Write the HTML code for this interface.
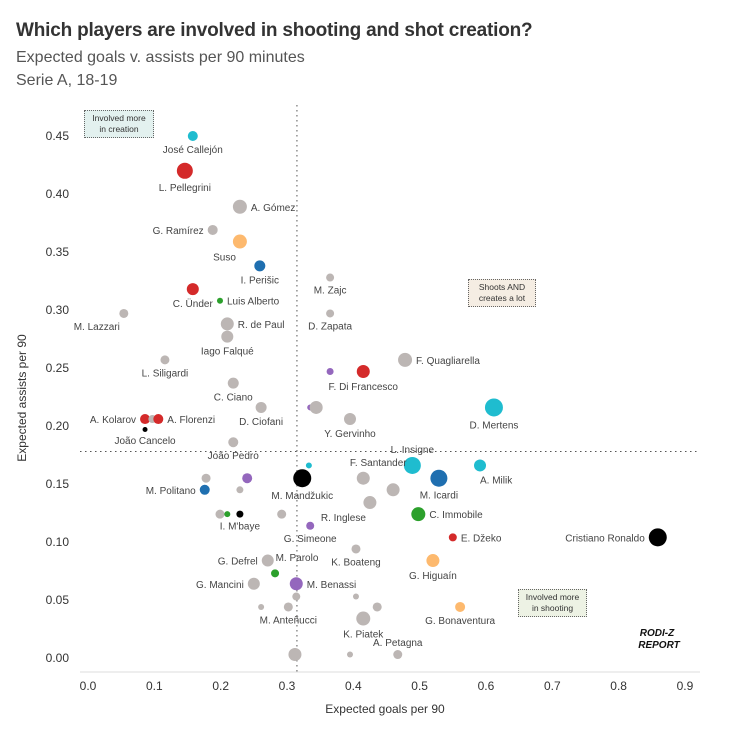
<!DOCTYPE html>
<html><head><meta charset="utf-8">
<style>
body{margin:0;background:#fff;width:730px;height:737px;overflow:hidden;font-family:"Liberation Sans",sans-serif}
#t{position:absolute;left:16px;top:20px;font-size:19px;color:#333;font-weight:bold;letter-spacing:-0.2px}
.s{position:absolute;left:16px;font-size:16px;color:#555}
.box{position:absolute;font-size:8.5px;color:#333;text-align:center;line-height:11px;border:1px dotted #666;padding:2px 3px}
</style></head><body>
<div id="t">Which players are involved in shooting and shot creation?</div>
<div class="s" style="top:49px">Expected goals v. assists per 90 minutes</div>
<div class="s" style="top:72px">Serie A, 18-19</div>
<div class="box" style="left:84px;top:110px;width:62px;background:#e3f1ef">Involved more<br>in creation</div>
<div class="box" style="left:468px;top:279px;width:60px;background:#f5ede3">Shoots AND<br>creates a lot</div>
<div class="box" style="left:518px;top:589px;width:61px;background:#edf2e4">Involved more<br>in shooting</div>
<svg id="c" width="730" height="737" style="position:absolute;left:0;top:0"></svg>
<script>
const names=["José Callejón","L. Pellegrini","A. Gómez","G. Ramírez","Suso","I. Perišic","M. Zajc","C. Ünder","Luis Alberto","M. Lazzari","D. Zapata","R. de Paul","Iago Falqué","L. Siligardi","F. Quagliarella","","F. Di Francesco","C. Ciano","D. Mertens","D. Ciofani","","","Y. Gervinho","A. Kolarov","","A. Florenzi","João Cancelo","João Pedro","","L. Insigne","A. Milik","M. Mandžukic","","","F. Santander","M. Icardi","M. Politano","","","R. Inglese","C. Immobile","","","I. M'baye","","G. Simeone","E. Džeko","Cristiano Ronaldo","K. Boateng","G. Defrel","G. Higuaín","","G. Mancini","M. Benassi","","","","M. Anteñucci","","G. Bonaventura","K. Piatek","A. Petagna","","","M. Parolo"];
const xs=[0.158,0.146,0.229,0.188,0.229,0.259,0.365,0.158,0.199,0.054,0.365,0.21,0.21,0.116,0.478,0.365,0.415,0.219,0.612,0.261,0.335,0.344,0.395,0.086,0.097,0.106,0.086,0.219,0.333,0.489,0.591,0.323,0.178,0.240,0.415,0.529,0.176,0.229,0.460,0.425,0.498,0.199,0.210,0.229,0.292,0.335,0.550,0.859,0.404,0.271,0.520,0.282,0.250,0.314,0.314,0.404,0.261,0.302,0.436,0.561,0.415,0.467,0.312,0.395,0.290];
const ys=[0.450,0.420,0.389,0.369,0.359,0.338,0.328,0.318,0.308,0.297,0.297,0.288,0.277,0.257,0.257,0.247,0.247,0.237,0.216,0.216,0.216,0.216,0.206,0.206,0.206,0.206,0.197,0.186,0.166,0.166,0.166,0.155,0.155,0.155,0.155,0.155,0.145,0.145,0.145,0.134,0.124,0.124,0.124,0.124,0.124,0.114,0.104,0.104,0.094,0.084,0.084,0.073,0.064,0.064,0.053,0.053,0.044,0.044,0.044,0.044,0.034,0.003,0.003,0.003,0.0];
const sizes=[5,8,7,5,7,5.5,4,6,3,4.5,4,6.5,6,4.5,7,3.5,6.5,5.5,9,5.5,3,6.5,6,5,4,5,2.5,5,3,8.5,6,9,4.5,5,6.5,8.5,5,3.5,6.5,6.5,7,4.5,3,3.5,4.5,4,4,9,4.5,6,6.5,4,6,6.5,4,3,3,4.5,4.5,5,7,4.5,6.5,3,0];
const colors=["c","r","g","g","o","b","g","r","n","g","g","g","g","g","g","p","r","g","c","g","p","g","g","r","g","r","k","g","c","c","c","k","g","p","g","b","b","g","g","g","n","g","n","k","g","p","r","k","g","g","o","n","g","p","g","g","g","g","g","o","g","g","g","g","g"];
const labelPos=["b","b","r","l","bl","b","b","b","r","bl","b","r","b","b","r","","b","b","b","b","","","b","l","","r","b","b","","a","br","b","","","lt","b","l","","","bl","r","","","b","","b","r","l","b","l","b","","l","r","","","","b","","b","b","a","","","pl"];
const xTicks=[0,0.1,0.2,0.3,0.4,0.5,0.6,0.7,0.8,0.9];
const yTicks=[0,0.05,0.1,0.15,0.2,0.25,0.3,0.35,0.4,0.45];
const avgX=0.315, avgY=0.178;
const pal={r:"#d42a2a",c:"#1fbccf",b:"#1f6fb0",o:"#fdb96e",g:"#bcb6b4",n:"#2ca02c",p:"#9467bd",k:"#000"};
const X=v=>88+v*663.3, Y=v=>658-v*1160;
const svg=document.getElementById('c');const NS="http://www.w3.org/2000/svg";
function mk(t,a,p){const e=document.createElementNS(NS,t);for(const k in a)e.setAttribute(k,a[k]);(p||svg).appendChild(e);return e;}
let e=mk('line',{x1:80,y1:672,x2:700,y2:672,stroke:'#ddd'});


xTicks.forEach(v=>{const t=mk('text',{x:X(v),y:690,'text-anchor':'middle','font-size':12,fill:'#333'});t.textContent=v.toFixed(1);

});
yTicks.forEach(v=>{const t=mk('text',{x:69,y:Y(v)+4,'text-anchor':'end','font-size':12,fill:'#333'});t.textContent=v.toFixed(2);

});
e=mk('text',{x:385,y:713,'text-anchor':'middle','font-size':12,fill:'#333'});e.textContent='Expected goals per 90';


e=mk('text',{x:0,y:0,'text-anchor':'middle','font-size':12,fill:'#333',transform:'translate(26,398) rotate(-90)'});e.textContent='Expected assists per 90';


e=mk('line',{x1:X(avgX),y1:105,x2:X(avgX),y2:672,stroke:'#555','stroke-dasharray':'1.5 3.5'});


e=mk('line',{x1:80,y1:Y(avgY),x2:700,y2:Y(avgY),stroke:'#555','stroke-dasharray':'1.5 3.5'});


names.forEach((n,i)=>{
 if(sizes[i]>0){const c=mk('circle',{cx:X(xs[i]),cy:Y(ys[i]),r:sizes[i],fill:pal[colors[i]]});
 
 }
 if(!n)return;
 const px=X(xs[i]),py=Y(ys[i]),r=sizes[i],p=labelPos[i];let x=px,y=py+4,a='middle';
 if(p=='b'){y=py+r+12;}else if(p=='r'){x=px+r+4;a='start';}else if(p=='l'){x=px-r-4;a='end';}
 else if(p=='a'){y=py-r-4;}else if(p=='bl'){x=px-4;y=py+r+12;a='end';}else if(p=='br'){x=px;y=py+r+12;a='start';}
 else if(p=='lt'){x=px+15;y=py-12;a='middle';}else if(p=='pl'){x=297;y=561;a='middle';}
 const t=mk('text',{x:x,y:y,'text-anchor':a,'font-size':10,fill:'#444'});t.textContent=n;
 
 
});
e=mk('text',{x:657,y:636,'text-anchor':'middle','font-size':10,'font-weight':'bold','font-style':'italic',fill:'#111'});e.textContent='RODI-Z';


e=mk('text',{x:659,y:648,'text-anchor':'middle','font-size':10,'font-weight':'bold','font-style':'italic',fill:'#111'});e.textContent='REPORT';


</script>
</body></html>
